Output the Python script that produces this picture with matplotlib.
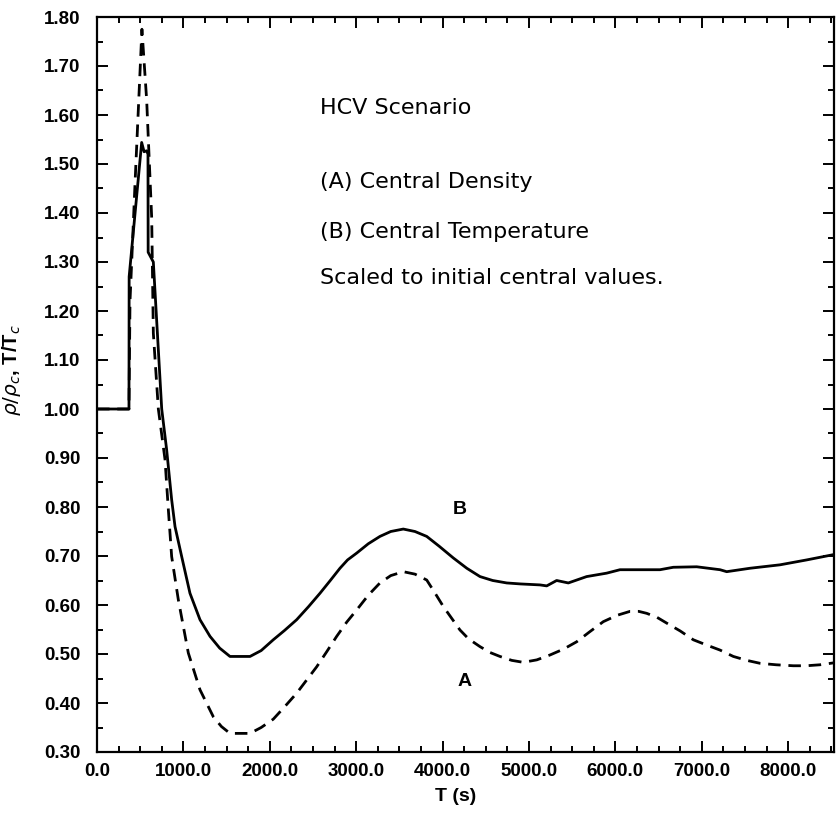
import numpy as np
import matplotlib
matplotlib.use("Agg")
import matplotlib.pyplot as plt
from matplotlib.ticker import MultipleLocator, FormatStrFormatter

# (B) central temperature, scaled to initial value
t_temp = [0, 370, 372, 517, 545, 575, 590, 592, 652, 749, 806, 864, 903, 980,
          1076, 1192, 1308, 1420, 1539, 1771, 1900, 2040, 2170, 2311, 2450,
          2581, 2700, 2812, 2900, 3006, 3140, 3275, 3400, 3545, 3680, 3816,
          3960, 4124, 4280, 4433, 4580, 4742, 4900, 5127, 5205, 5320, 5455,
          5667, 5899, 6053, 6516, 6670, 6941, 7211, 7288, 7558, 7905, 8214,
          8530]
temp = [1.00, 1.00, 1.27, 1.544, 1.525, 1.527, 1.52, 1.32, 1.30, 1.00, 0.917,
        0.815, 0.76, 0.699, 0.624, 0.570, 0.536, 0.512, 0.495, 0.495, 0.507,
        0.529, 0.548, 0.570, 0.597, 0.624, 0.650, 0.675, 0.692, 0.706, 0.725,
        0.740, 0.750, 0.755, 0.750, 0.740, 0.720, 0.696, 0.675, 0.658, 0.650,
        0.645, 0.643, 0.641, 0.639, 0.650, 0.645, 0.658, 0.665, 0.672, 0.672,
        0.677, 0.678, 0.672, 0.668, 0.675, 0.682, 0.692, 0.703]

# (A) central density, scaled to initial value
t_dens = [0, 370, 382, 440, 520, 575, 633, 652, 710, 787, 826, 864, 941, 1057,
          1192, 1346, 1440, 1539, 1771, 1900, 2040, 2170, 2311, 2543, 2660,
          2774, 2890, 3006, 3140, 3275, 3400, 3545, 3680, 3816, 3910, 4008,
          4201, 4300, 4433, 4550, 4664, 4800, 4934, 5090, 5243, 5400, 5552,
          5700, 5860, 6020, 6169, 6270, 6362, 6480, 6594, 6750, 6902, 7060,
          7211, 7365, 7520, 7674, 7860, 8059, 8210, 8368, 8530]
dens = [1.00, 1.00, 1.22, 1.46, 1.775, 1.63, 1.39, 1.155, 1.00, 0.897, 0.794,
        0.699, 0.611, 0.502, 0.427, 0.372, 0.352, 0.338, 0.338, 0.350, 0.367,
        0.392, 0.420, 0.474, 0.505, 0.536, 0.565, 0.590, 0.620, 0.645, 0.660,
        0.668, 0.663, 0.651, 0.625, 0.597, 0.549, 0.531, 0.515, 0.503, 0.495,
        0.487, 0.483, 0.488, 0.498, 0.510, 0.525, 0.545, 0.566, 0.579, 0.587,
        0.587, 0.583, 0.575, 0.563, 0.547, 0.529, 0.518, 0.508, 0.495, 0.487,
        0.481, 0.478, 0.476, 0.476, 0.478, 0.482]

notes = ["HCV Scenario", "(A) Central Density", "(B) Central Temperature",
         "Scaled to initial central values."]

fig = plt.figure(figsize=(8.36, 8.14), dpi=100)
ax = fig.add_axes([97 / 836, 62 / 814, 737 / 836, 735 / 814])

ax.plot(t_temp, temp, color="black", lw=2.0, solid_joinstyle="round")
ax.plot(t_dens, dens, color="black", lw=2.0, linestyle=(0, (4.5, 2.8)))

ax.set_xlim(0, 8530)
ax.set_ylim(0.30, 1.80)
ax.xaxis.set_major_locator(MultipleLocator(1000))
ax.xaxis.set_minor_locator(MultipleLocator(250))
ax.yaxis.set_major_locator(MultipleLocator(0.1))
ax.yaxis.set_minor_locator(MultipleLocator(0.05))
ax.xaxis.set_major_formatter(FormatStrFormatter("%.1f"))
ax.yaxis.set_major_formatter(FormatStrFormatter("%.2f"))

ax.tick_params(which="both", direction="in", top=True, right=True, width=1.4)
ax.tick_params(which="major", length=8)
ax.tick_params(which="minor", length=4.5)
ax.tick_params(axis="y", which="major", pad=12)
ax.tick_params(axis="x", which="major", pad=8)
for lab in ax.get_xticklabels() + ax.get_yticklabels():
    lab.set_fontfamily("Liberation Sans")
    lab.set_fontweight("bold")
    lab.set_fontsize(13.5)
for s in ax.spines.values():
    s.set_linewidth(1.6)

ax.set_xlabel("T (s)", fontfamily="Liberation Sans", fontweight="bold",
              fontsize=14, labelpad=6)
ax.xaxis.label.set_x(0.486)
ax.set_ylabel(r"$\rho/\rho_c$, T/T$_c$", fontfamily="Liberation Sans",
              fontweight="bold", fontsize=14.5)
ax.yaxis.set_label_coords(-0.10, 0.52)

ys = [0.876, 0.776, 0.707, 0.645]
for txt, y in zip(notes, ys):
    ax.text(0.302, y, txt, transform=ax.transAxes, fontsize=16,
            fontfamily="DejaVu Sans", va="center", ha="left")

ax.text(4200, 0.794, "B", fontsize=14, fontfamily="Liberation Sans",
        fontweight="bold", ha="center", va="center")
ax.text(4259, 0.444, "A", fontsize=14, fontfamily="Liberation Sans",
        fontweight="bold", ha="center", va="center")

fig.savefig("out.png", dpi=100)
